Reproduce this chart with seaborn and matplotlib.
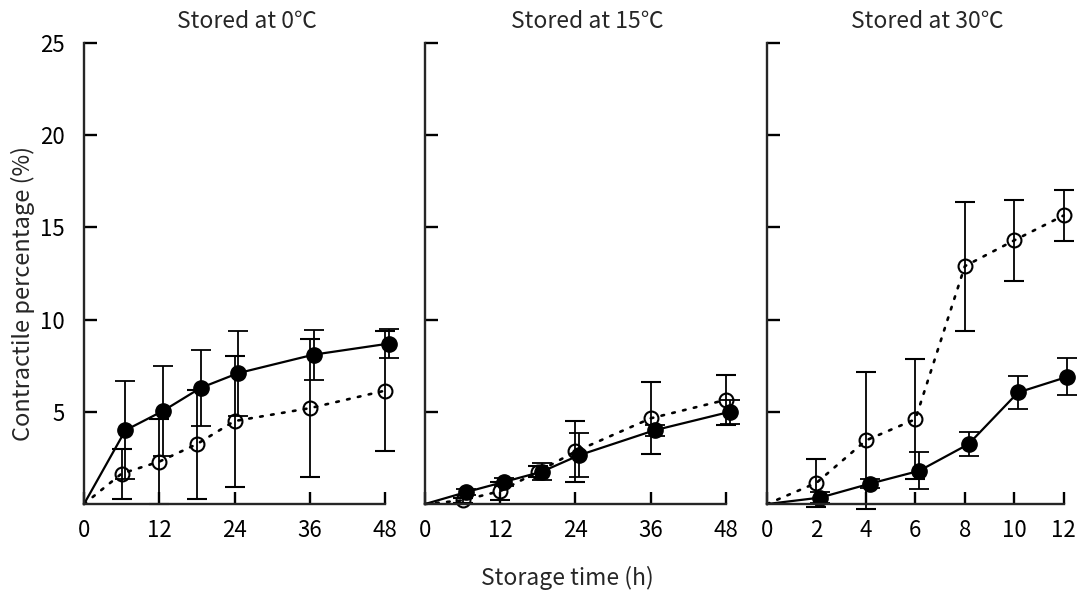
import numpy as np
import pandas as pd
import seaborn as sns
import matplotlib
matplotlib.use("Agg")
import matplotlib.pyplot as plt

# storage times (h) for each panel
t_long = [0, 6, 12, 18, 24, 36, 48]
t_short = [0, 2, 4, 6, 8, 10, 12]

titles = ["Stored at 0℃", "Stored at 15℃", "Stored at 30℃"]
xtick_sets = [[0, 12, 24, 36, 48], [0, 12, 24, 36, 48], [0, 2, 4, 6, 8, 10, 12]]

# filled circles (solid line)
filled_0 = [0, 4.0, 5.05, 6.3, 7.1, 8.1, 8.7]
filled_0_err = [0, 2.65, 2.45, 2.05, 2.3, 1.35, 0.8]
filled_15 = [0, 0.65, 1.2, 1.75, 2.65, 4.0, 5.0]
filled_15_err = [0, 0.15, 0.2, 0.45, 1.2, 0.3, 0.65]
filled_30 = [0, 0.35, 1.1, 1.8, 3.25, 6.05, 6.9]
filled_30_err = [0, 0.3, 0.25, 1.0, 0.65, 0.9, 1.0]

# open circles (dotted line)
open_0 = [0, 1.65, 2.3, 3.25, 4.5, 5.2, 6.15]
open_0_err = [0, 1.35, 2.3, 2.95, 3.55, 3.75, 3.25]
open_15 = [0, 0.2, 0.7, 1.75, 2.85, 4.65, 5.65]
open_15_err = [0, 0.15, 0.5, 0.3, 1.65, 1.95, 1.35]
open_30 = [0, 1.15, 3.45, 4.6, 12.9, 14.3, 15.65]
open_30_err = [0, 1.3, 3.7, 3.25, 3.5, 2.2, 1.4]

panels = [
    (t_long, filled_0, filled_0_err, open_0, open_0_err, 0.6),
    (t_long, filled_15, filled_15_err, open_15, open_15_err, 0.6),
    (t_short, filled_30, filled_30_err, open_30, open_30_err, 0.15),
]

sns.set_theme(style="ticks")
plt.rcParams['font.family'] = ['Noto Sans CJK JP', 'DejaVu Sans']
plt.rcParams['axes.linewidth'] = 1.7

fig = plt.figure(figsize=(10.77, 5.93), dpi=100)
lefts = [0.078, 0.3946, 0.7122]
widths = [0.2795, 0.2795, 0.2755]
bottom, height = 0.150, 0.7775

for i, (t, fy, fe, oy, oe, dodge) in enumerate(panels):
    ax = fig.add_axes([lefts[i], bottom, widths[i], height])
    t = np.array(t, dtype=float)
    tf = t + dodge * (t > 0)
    df = pd.DataFrame({"t": t, "tf": tf, "filled": fy, "open": oy,
                       "fe": fe, "oe": oe})

    sns.lineplot(data=df, x="t", y="open", ax=ax, color="black", lw=1.9,
                 linestyle=(0, (1, 3.2)), dash_capstyle="round",
                 clip_on=False)
    sns.lineplot(data=df, x="tf", y="filled", ax=ax, color="black", lw=1.6,
                 clip_on=False)

    pts = df[df["t"] > 0]
    ax.errorbar(pts["t"], pts["open"], yerr=pts["oe"], fmt="o", ms=10,
                mfc="none", mec="black", mew=1.5, ecolor="black",
                elinewidth=1.3, capsize=7, capthick=1.3, clip_on=False)
    ax.errorbar(pts["tf"], pts["filled"], yerr=pts["fe"], fmt="o", ms=11,
                mfc="black", mec="black", ecolor="black",
                elinewidth=1.3, capsize=7, capthick=1.3, clip_on=False)

    ax.set_xlim(t[0], t[-1])
    ax.set_ylim(0, 25)
    ax.set_xticks(xtick_sets[i])
    ax.set_yticks([5, 10, 15, 20, 25])
    ax.tick_params(direction="in", length=9, width=1.7, labelsize=16,
                   colors="black", pad=14)
    ax.tick_params(axis="x", pad=11)
    if i > 0:
        ax.set_yticklabels([])
    ax.set_xlabel("")
    ax.set_ylabel("")
    sns.despine(ax=ax)
    ax.set_title(titles[i], fontsize=16.5, x=0.54, pad=11)

fig.text(0.527, 0.025, "Storage time (h)", ha="center", va="center",
         fontsize=16.5)
fig.text(0.021, 0.505, "Contractile percentage (%)", ha="center",
         va="center", rotation=90, fontsize=17)

fig.savefig("out.png", dpi=100)
